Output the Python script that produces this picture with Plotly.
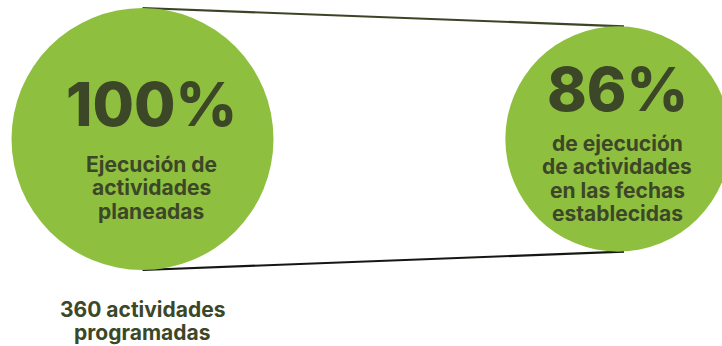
import plotly.graph_objects as go

# ---- data ----
percent_values = [100, 86]
percent_labels = ["100%", "86%"]
desc_left = ["Ejecución de", "actividades", "planeadas"]
desc_right = ["de ejecución", "de actividades", "en las fechas", "establecidas"]
footnote = ["360 actividades", "programadas"]

# ---- layout / style ----
W, H = 722, 346
centers_x = [142.5, 618]
center_y = 139
radius_per_pct = 1.31  # px radius per percentage point
GREEN = "#8fbf3f"
DARK = "#3c4728"
FONT = "Inter"

radii = [v * radius_per_pct for v in percent_values]

fig = go.Figure()

# connecting lines (top and bottom tangents)
fig.add_trace(go.Scatter(
    x=[centers_x[0], centers_x[1] + 6], y=[center_y - radii[0], center_y - radii[1]],
    mode="lines", line=dict(color="#3b4526", width=2.2), hoverinfo="skip"))
fig.add_trace(go.Scatter(
    x=[centers_x[0], centers_x[1] + 6], y=[center_y + radii[0], center_y + radii[1]],
    mode="lines", line=dict(color="#151812", width=2.2), hoverinfo="skip"))

# circles
fig.add_trace(go.Scatter(
    x=centers_x, y=[center_y] * 2, mode="markers",
    marker=dict(size=[2 * r for r in radii], color=GREEN, line=dict(width=0), opacity=1),
    hoverinfo="skip"))

big_font = dict(family=FONT, size=60, color=DARK, weight=800)
small_font = dict(family=FONT, size=21, color=DARK, weight=700)

# big percentages
fig.add_annotation(x=151, y=103.5, text=percent_labels[0], showarrow=False,
                   font=big_font, xanchor="center", yanchor="middle")
fig.add_annotation(x=617, y=88.5, text=percent_labels[1], showarrow=False,
                   font=big_font, xanchor="center", yanchor="middle")

# descriptions
for i, t in enumerate(desc_left):
    fig.add_annotation(x=151, y=164 + 23.5 * i, text=t, showarrow=False,
                       font=small_font, xanchor="center", yanchor="middle")
for i, t in enumerate(desc_right):
    fig.add_annotation(x=617, y=143 + 23.5 * i, text=t, showarrow=False,
                       font=small_font, xanchor="center", yanchor="middle")

# footnote
for i, t in enumerate(footnote):
    fig.add_annotation(x=142, y=309 + 23.5 * i, text=t, showarrow=False, borderpad=0,
                       font=small_font, xanchor="center", yanchor="middle")

fig.update_layout(
    width=W, height=H, margin=dict(l=0, r=0, t=0, b=0),
    paper_bgcolor="white", plot_bgcolor="white", showlegend=False,
    xaxis=dict(range=[0, W], visible=False, fixedrange=True),
    yaxis=dict(range=[H, 0], visible=False, fixedrange=True),
)

fig.write_html("out.html", config={"displayModeBar": False},
               post_script="document.body.style.margin='0';document.body.style.overflow='hidden';")
